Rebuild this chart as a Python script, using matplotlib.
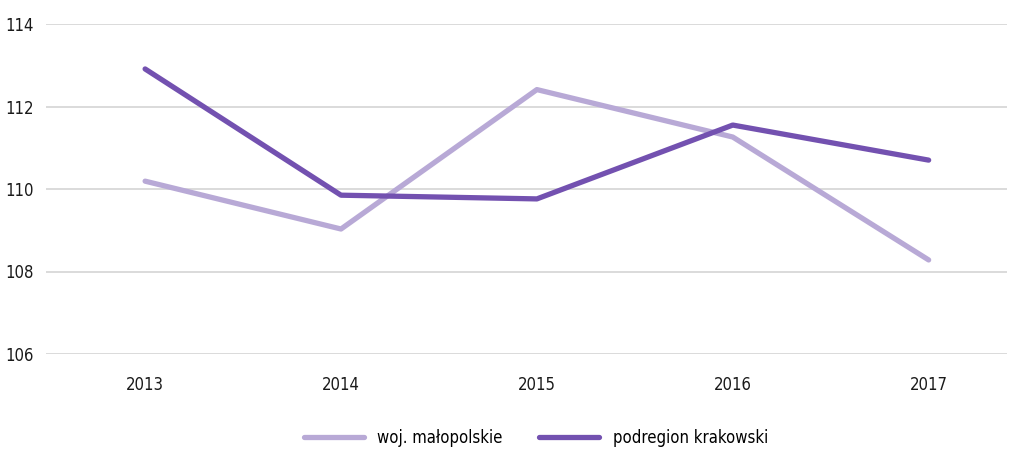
import matplotlib
matplotlib.use("Agg")
import matplotlib.pyplot as plt
from matplotlib import font_manager

years = ["2013", "2014", "2015", "2016", "2017"]
woj_malopolskie = [110.19, 109.03, 112.41, 111.26, 108.28]
podregion_krakowski = [112.91, 109.85, 109.76, 111.55, 110.70]
yticks = [106, 108, 110, 112, 114]

names = {f.name for f in font_manager.fontManager.ttflist}
cands = ["Liberation Sans Narrow", "DejaVu Sans Condensed", "DejaVu Sans"]
fam = next(c for c in cands if c in names)
plt.rcParams["font.family"] = [fam, "DejaVu Sans"]
plt.rcParams["font.stretch"] = "condensed"

fig = plt.figure(figsize=(10.09, 4.49), dpi=100)
ax = fig.add_axes([46/1009, 1-354/449, (1007-46)/1009, (354-24)/449])

x = list(range(len(years)))
ax.plot(x, woj_malopolskie, color="#b8a9d6", lw=3.8, solid_capstyle="round", label="woj. małopolskie")
ax.plot(x, podregion_krakowski, color="#7351b0", lw=3.8, solid_capstyle="round", label="podregion krakowski")

ax.set_ylim(106, 114)
ax.set_yticks(yticks)
ax.set_xlim(-0.506, 4.40)
ax.set_xticks(x)
ax.set_xticklabels(years)
ax.grid(axis="y", color="#dadada", lw=1.4)
ax.set_axisbelow(True)
for s in ax.spines.values():
    s.set_visible(False)
ax.tick_params(length=0, labelsize=12, colors="#1a1a1a")
ax.tick_params(axis="y", pad=9)
ax.tick_params(axis="x", pad=15.5)

fig.legend(loc="center", bbox_to_anchor=(536/1009, 1-438/449), ncol=2, frameon=False,
           fontsize=12, handlelength=3.6, columnspacing=2.2, handletextpad=0.8)

fig.savefig("out.png", dpi=100)
